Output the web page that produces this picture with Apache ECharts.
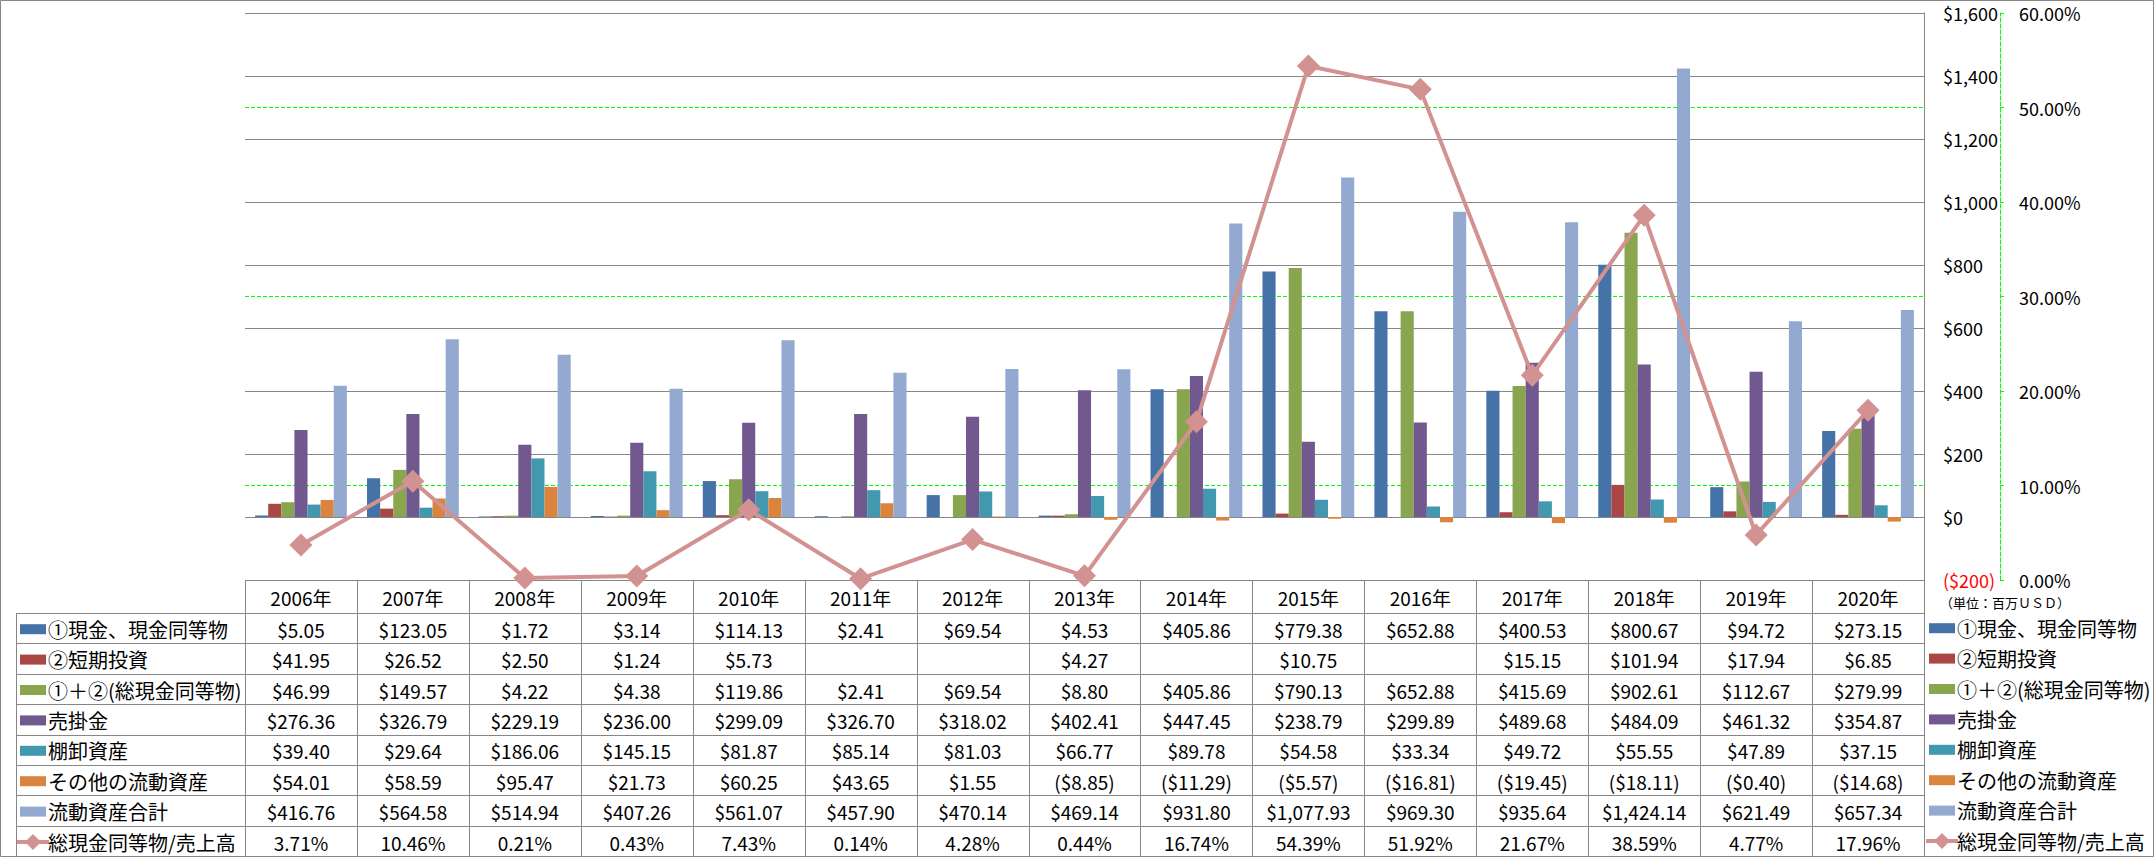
<!DOCTYPE html>
<html>
<head>
<meta charset="UTF-8">
<title>流動資産</title>
<script src="https://cdn.jsdelivr.net/npm/echarts@6/dist/echarts.min.js"></script>
<style>
  html, body { margin: 0; padding: 0; background: #fff; }
  #main { width: 2156px; height: 858px; }
</style>
</head>
<body>
<div id="main"></div>
<script>
// 年度
var years = ['2006年','2007年','2008年','2009年','2010年','2011年','2012年','2013年','2014年','2015年','2016年','2017年','2018年','2019年','2020年'];
// 単位：百万USD
var cash      = [5.05, 123.05, 1.72, 3.14, 114.13, 2.41, 69.54, 4.53, 405.86, 779.38, 652.88, 400.53, 800.67, 94.72, 273.15];
var shortInv  = [41.95, 26.52, 2.50, 1.24, 5.73, null, null, 4.27, null, 10.75, null, 15.15, 101.94, 17.94, 6.85];
var totalCash = [46.99, 149.57, 4.22, 4.38, 119.86, 2.41, 69.54, 8.80, 405.86, 790.13, 652.88, 415.69, 902.61, 112.67, 279.99];
var receiv    = [276.36, 326.79, 229.19, 236.00, 299.09, 326.70, 318.02, 402.41, 447.45, 238.79, 299.89, 489.68, 484.09, 461.32, 354.87];
var inventory = [39.40, 29.64, 186.06, 145.15, 81.87, 85.14, 81.03, 66.77, 89.78, 54.58, 33.34, 49.72, 55.55, 47.89, 37.15];
var otherCA   = [54.01, 58.59, 95.47, 21.73, 60.25, 43.65, 1.55, -8.85, -11.29, -5.57, -16.81, -19.45, -18.11, -0.40, -14.68];
var totalCA   = [416.76, 564.58, 514.94, 407.26, 561.07, 457.90, 470.14, 469.14, 931.80, 1077.93, 969.30, 935.64, 1424.14, 621.49, 657.34];
// 総現金同等物/売上高 (%)
var ratio     = [3.71, 10.46, 0.21, 0.43, 7.43, 0.14, 4.28, 0.44, 16.74, 54.39, 51.92, 21.67, 38.59, 4.77, 17.96];

var barNames = ['①現金、現金同等物', '②短期投資', '①＋②(総現金同等物)', '売掛金', '棚卸資産', 'その他の流動資産', '流動資産合計'];
var barData  = [cash, shortInv, totalCash, receiv, inventory, otherCA, totalCA];
var lineName = '総現金同等物/売上高';
var colors   = ['#4572a7', '#aa4643', '#89a54e', '#71588f', '#4198af', '#db843d', '#93a9cf'];
var lineColor = '#d39292';

var FONT = '"Noto Sans CJK JP", "Noto Sans", sans-serif';
var GRAY = '#868686';

function money(v) {
  if (v == null) return '';
  var s = Math.abs(v).toLocaleString('en-US', {minimumFractionDigits: 2, maximumFractionDigits: 2});
  return v < 0 ? '($' + s + ')' : '$' + s;
}

var chart = echarts.init(document.getElementById('main'), null, {renderer: 'svg'});

var series = barNames.map(function (n, i) {
  return {
    name: n, type: 'bar', yAxisIndex: 0,
    data: barData[i],
    barGap: 0, barCategoryGap: '18%',
    itemStyle: {color: colors[i]}
  };
});
series.push({
  name: lineName, type: 'line', yAxisIndex: 1,
  data: ratio,
  symbol: 'diamond', symbolSize: 23,
  lineStyle: {color: lineColor, width: 4},
  itemStyle: {color: lineColor},
  z: 5
});

chart.setOption({
  animation: false,
  textStyle: {fontFamily: FONT},
  grid: {left: 245, right: 232, top: 13, bottom: 278},
  xAxis: {
    type: 'category', data: years,
    axisLine: {show: false}, axisTick: {show: false}, axisLabel: {show: false}
  },
  yAxis: [{
    type: 'value', position: 'right', min: -200, max: 1600, interval: 200, z: 1,
    axisLine: {show: true, lineStyle: {color: GRAY}},
    axisTick: {show: false},
    axisLabel: {
      margin: 19, fontSize: 18, fontFamily: FONT,
      formatter: function (v) { return v < 0 ? '($' + (-v) + ')' : '$' + v.toLocaleString('en-US'); },
      color: function (v) { return v < 0 ? '#ff0000' : '#000'; }
    },
    splitLine: {lineStyle: {color: GRAY}}
  }, {
    type: 'value', position: 'right', offset: 76, min: 0, max: 60, interval: 10, z: 0,
    axisLine: {show: true, lineStyle: {color: '#00ff00', type: 'dashed'}},
    axisTick: {show: true, length: 4, lineStyle: {color: '#00ff00'}},
    axisLabel: {margin: 19, fontSize: 18, fontFamily: FONT, color: '#000',
      formatter: function (v) { return v.toFixed(2) + '%'; }},
    splitLine: {lineStyle: {color: '#00ff00', type: 'dashed'}}
  }],
  series: series
});

// データテーブル
var cx = years.map(function (y, i) { return chart.convertToPixel({xAxisIndex: 0}, i); });
var band = cx[1] - cx[0];
var tLeft = cx[0] - band / 2, tRight = cx[cx.length - 1] + band / 2;
var headTop = 580, rowTop = 613, rowH = 30.4, labLeft = 16;
var rows = barData.map(function (d) { return d.map(money); });
rows.push(ratio.map(function (v) { return v.toFixed(2) + '%'; }));
var rowNames = barNames.concat([lineName]);

var g = [];
function hline(x1, x2, y) { y = Math.round(y) + 0.5; g.push({type: 'line', shape: {x1: x1, y1: y, x2: x2, y2: y}, style: {stroke: GRAY, lineWidth: 1}}); }
function vline(x, y1, y2) { x = Math.round(x) + 0.5; g.push({type: 'line', shape: {x1: x, y1: y1, x2: x, y2: y2}, style: {stroke: GRAY, lineWidth: 1}}); }
function txt(x, y, s, align, size) {
  g.push({type: 'text', x: x, y: y, style: {text: s, fill: '#000', fontSize: size || 19, fontFamily: FONT, align: align || 'center', verticalAlign: 'middle'}});
}
function key(x, y, i) {
  if (i < barNames.length) {
    g.push({type: 'rect', shape: {x: x, y: y - 5, width: 26, height: 10}, style: {fill: colors[i]}});
  } else {
    g.push({type: 'line', shape: {x1: x - 3, y1: y, x2: x + 29, y2: y}, style: {stroke: lineColor, lineWidth: 4}});
    g.push({type: 'polygon', shape: {points: [[x + 13, y - 8], [x + 21, y], [x + 13, y + 8], [x + 5, y]]}, style: {fill: lineColor}});
  }
}

var tBottom = rowTop + rowH * rows.length;
hline(tLeft, tRight, headTop);
for (var r = 0; r <= rows.length; r++) hline(labLeft, tRight, rowTop + rowH * r);
for (var c = 0; c <= years.length; c++) vline(tLeft + band * c, headTop, tBottom);
vline(labLeft, rowTop, tBottom);

years.forEach(function (y, i) { txt(cx[i], (headTop + rowTop) / 2 + 1, y); });
rows.forEach(function (row, r) {
  var yc = rowTop + rowH * (r + 0.5) + 1;
  key(20, yc, r);
  txt(48, yc, rowNames[r], 'left', 20);
  row.forEach(function (s, i) { txt(cx[i], yc, s); });
  // 右側の凡例
  key(1929, yc - 1, r);
  txt(1957, yc - 1, rowNames[r], 'left', 20);
});
txt(1940, 602, '（単位：百万ＵＳＤ）', 'left', 13);
// 外枠
g.push({type: 'rect', shape: {x: 0.5, y: 0.5, width: 2153, height: 856}, style: {fill: 'none', stroke: GRAY, lineWidth: 1}, z: -1});

chart.setOption({graphic: g});
</script>
</body>
</html>
